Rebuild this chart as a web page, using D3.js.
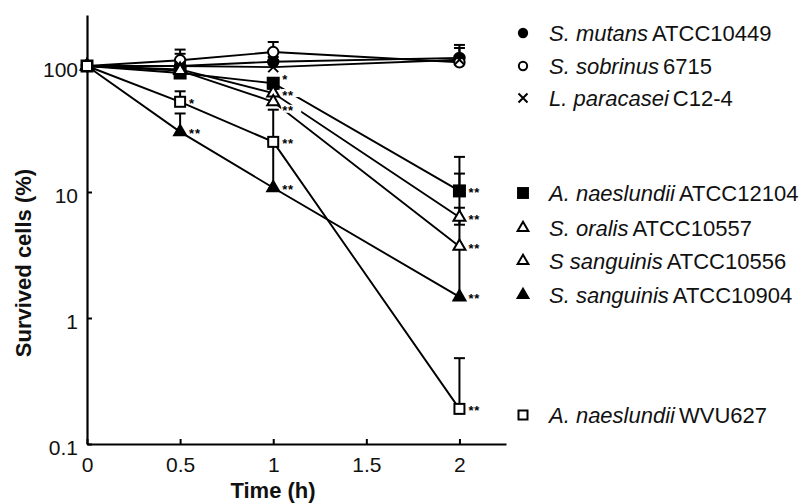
<!DOCTYPE html>
<html>
<head>
<meta charset="utf-8">
<script src="https://cdn.jsdelivr.net/npm/d3@7"></script>
<style>
  html, body { margin: 0; padding: 0; background: #fff; }
  svg { display: block; font-family: "Liberation Sans", Arial, Helvetica, sans-serif; }
</style>
</head>
<body>
<svg id="chart" width="809" height="504"></svg>
<script>
// ---------- data ----------
const times = [0, 0.5, 1, 2];
const xTickValues = [0, 0.5, 1, 1.5, 2];
const yTickValues = [0.1, 1, 10, 100];

const speciesNames = ["S. mutans", "S. sobrinus", "L. paracasei", "A. naeslundii", "S. oralis", "S sanguinis", "S. sanguinis", "A. naeslundii"];
const strainNames  = ["ATCC10449", "6715", "C12-4", "ATCC12104", "ATCC10557", "ATCC10556", "ATCC10904", "WVU627"];
const markerTypes  = ["filledCircle", "openCircle", "cross", "filledSquare", "openTriangle", "openTriangle", "filledTriangle", "openSquare"];

// mean survival (%) at each time
const mutans10449   = [100, 100, 108, 116];
const sobrinus6715  = [100, 111, 129, 107];
const paracaseiC124 = [100, 100, 98, 112];
const naes12104     = [100, 88, 73, 10.2];
const oralis10557   = [100, 94, 61, 6.3];
const sang10556     = [100, 92, 52, 3.7];
const sang10904     = [100, 30, 10.8, 1.47];
const naesWVU627    = [100, 52, 25, 0.19];

// upper ends of error bars (null = none)
const mutansUpper    = [null, 135, 118, 139];
const sobrinusUpper  = [null, 125, 155, 147];
const paracaseiUpper = [null, 112, 110, 120];
const naes12104Upper = [null, null, 80, 19];
const oralisUpper    = [null, null, 66, 14];
const sang10556Upper = [null, null, null, 7.5];
const sang10904Upper = [null, 42, 25, 3.6];
const naesWVUUpper   = [null, 63, 45, 0.48];
// lower ends of error bars
const oralisLower    = [null, null, null, 5.5];

// significance marks
const naes12104Sig = ["", "", "*", "**"];
const oralisSig    = ["", "", "**", "**"];
const sang10556Sig = ["", "", "**", "**"];
const sang10904Sig = ["", "**", "**", "**"];
const naesWVUSig   = ["", "*", "**", "**"];

const seriesValues = [mutans10449, sobrinus6715, paracaseiC124, naes12104, oralis10557, sang10556, sang10904, naesWVU627];
const seriesUpper  = [mutansUpper, sobrinusUpper, paracaseiUpper, naes12104Upper, oralisUpper, sang10556Upper, sang10904Upper, naesWVUUpper];
const seriesLower  = [null, null, null, null, oralisLower, null, null, null];
const seriesSig    = [null, null, null, naes12104Sig, oralisSig, sang10556Sig, sang10904Sig, naesWVUSig];

// ---------- layout ----------
const svg = d3.select("#chart");
const x = d3.scaleLinear().domain([0, 2.25]).range([87, 506]);
const y = d3.scaleLog().domain([0.1, 254]).range([444, 15]);

const series = seriesValues.map((vals, i) => ({
  i, marker: markerTypes[i],
  pts: vals.map((v, j) => ({ j, t: times[j], v, up: seriesUpper[i][j], lo: seriesLower[i] ? seriesLower[i][j] : null,
                             sig: seriesSig[i] ? seriesSig[i][j] : "" }))
}));

// axes
const xAxis = svg.append("g").attr("transform", "translate(0,444)")
  .call(d3.axisBottom(x).tickValues(xTickValues).tickSize(-5).tickSizeOuter(0).tickPadding(13).tickFormat(d3.format("~g")));
const yAxis = svg.append("g").attr("transform", "translate(87,0)")
  .call(d3.axisLeft(y).tickValues(yTickValues).tickSize(-5).tickSizeOuter(0).tickPadding(9).tickFormat(d3.format("~g")));
[xAxis, yAxis].forEach(g => {
  g.select(".domain").attr("stroke", "#000").attr("stroke-width", 2.2);
  g.selectAll(".tick line").attr("stroke", "#000").attr("stroke-width", 2);
  g.selectAll(".tick text").attr("fill", "#111").attr("font-size", 21)
    .attr("font-family", "'Liberation Sans', Arial, sans-serif");
});
yAxis.selectAll(".tick text").attr("dy", "0.5em");

svg.append("text").attr("x", 273).attr("y", 498).attr("text-anchor", "middle")
  .attr("font-size", 22).attr("font-weight", "bold").attr("fill", "#111").text("Time (h)");
svg.append("text").attr("transform", "translate(31,263) rotate(-90)").attr("text-anchor", "middle")
  .attr("font-size", 22).attr("font-weight", "bold").attr("fill", "#111").text("Survived cells (%)");

// lines
const line = d3.line().x(d => x(d.t)).y(d => y(d.v));
svg.append("g").selectAll("path").data(series).join("path")
  .attr("d", s => line(s.pts)).attr("fill", "none").attr("stroke", "#000").attr("stroke-width", 1.9);

// error bars
const eb = svg.append("g").attr("stroke", "#000").attr("stroke-width", 2);
series.forEach(s => s.pts.forEach(p => {
  [p.up, p.lo].forEach(e => {
    if (e == null) return;
    eb.append("line").attr("x1", x(p.t)).attr("x2", x(p.t)).attr("y1", y(p.v)).attr("y2", y(e));
    eb.append("line").attr("x1", x(p.t) - 5.5).attr("x2", x(p.t) + 5.5).attr("y1", y(e)).attr("y2", y(e));
  });
}));

// significance asterisks; the clustered labels at 1 h get a white backing and a small spread
const sigG = svg.append("g");
series.forEach(s => s.pts.forEach(p => {
  if (!p.sig) return;
  let shift = 0, backed = false;
  if (p.j === 2 && s.i >= 3 && s.i <= 5) {
    backed = true;
    shift = s.i === 3 ? -6 : (s.i === 5 ? 7 : 0);
  }
  const tx = x(p.t) + 9, cy = y(p.v) + shift;
  if (backed) {
    sigG.append("rect").attr("x", tx - 1).attr("y", cy - 4).attr("width", 20).attr("height", 8).attr("fill", "#fff");
  }
  sigG.append("text").attr("x", tx).attr("y", cy + 6.5).attr("font-size", 13).attr("font-weight", "bold")
    .attr("letter-spacing", 0.8).attr("fill", "#000").text(p.sig);
}));

// markers
function drawMarker(g, type, cx, cy, scale) {
  const k = scale || 1;
  if (type === "filledCircle" || type === "openCircle") {
    g.append("circle").attr("cx", cx).attr("cy", cy).attr("r", 5.2 * k)
      .attr("fill", type === "filledCircle" ? "#000" : "#fff").attr("stroke", "#000").attr("stroke-width", 2);
  } else if (type === "filledSquare" || type === "openSquare") {
    const a = (type === "filledSquare" ? 11 : 10) * k;
    g.append("rect").attr("x", cx - a / 2).attr("y", cy - a / 2).attr("width", a).attr("height", a)
      .attr("fill", type === "filledSquare" ? "#000" : "#fff").attr("stroke", "#000").attr("stroke-width", 2);
  } else if (type === "openTriangle" || type === "filledTriangle") {
    g.append("path").attr("transform", `translate(${cx},${cy})`)
      .attr("d", d3.symbol(d3.symbolTriangle, 62 * k * k)())
      .attr("fill", type === "filledTriangle" ? "#000" : "#fff").attr("stroke", "#000").attr("stroke-width", 2)
      .attr("stroke-linejoin", "miter");
  } else if (type === "cross") {
    const h = 5 * k;
    g.append("path").attr("d", `M${cx - h},${cy - h}L${cx + h},${cy + h}M${cx - h},${cy + h}L${cx + h},${cy - h}`)
      .attr("stroke", "#000").attr("stroke-width", 2).attr("fill", "none");
  }
}
const mk = svg.append("g");
series.forEach(s => s.pts.forEach(p => drawMarker(mk, s.marker, x(p.t), y(p.v))));

// legend
const legendRows = [33, 66, 98, 193, 228, 261, 295, 415];
const lg = svg.append("g");
speciesNames.forEach((name, i) => {
  const ry = legendRows[i];
  const m = markerTypes[i];
  drawMarker(lg, m, 523, ry, (m === "filledCircle" || m === "openCircle") ? 0.8 : 0.9);
  const t = lg.append("text").attr("x", 549).attr("y", ry + 8).attr("font-size", 22).attr("fill", "#111");
  t.append("tspan").attr("font-style", "italic").text(name);
  t.append("tspan").attr("dx", 4).text(strainNames[i]);
});
</script>
</body>
</html>
